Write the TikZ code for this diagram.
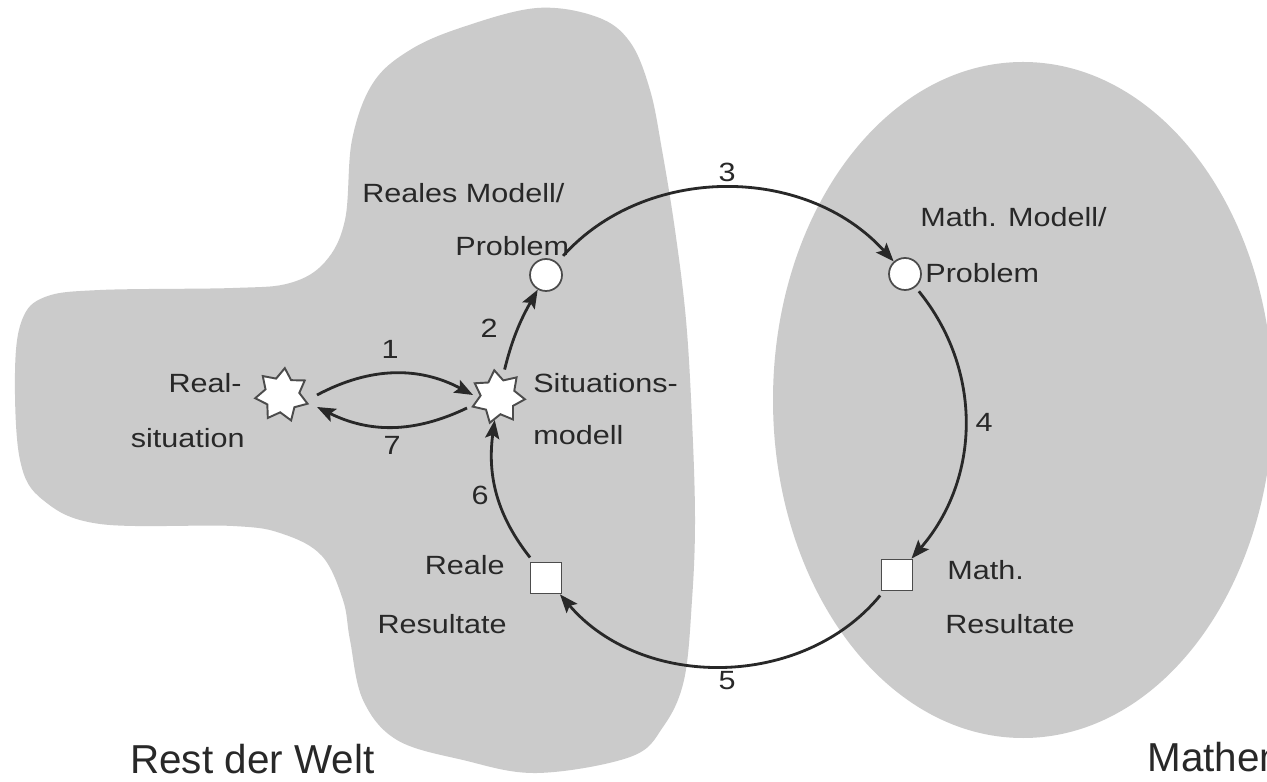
\documentclass[tikz,border=0pt]{standalone}
\usepackage{fontspec}
\setmainfont{Liberation Sans}
\newfontfamily\lblfont{Liberation Sans}[FakeStretch=1.16]
\usetikzlibrary{shapes.geometric,arrows.meta,calc}
\definecolor{blobgray}{RGB}{203,203,203}
\definecolor{inkgray}{RGB}{40,40,40}
\begin{document}
\begin{tikzpicture}[x=0.02cm,y=0.02cm,
  lbl/.style={font=\lblfont\fontsize{15}{18}\selectfont, text=inkgray, inner sep=0pt},
  arr/.style={line width=1.6pt, draw=inkgray, -{Stealth[length=10.5pt,width=8pt,inset=2pt]}},
  circ/.style={circle, draw=black!70, line width=1pt, fill=white, minimum size=0.64cm, inner sep=0pt},
  sq/.style={rectangle, draw=black!70, line width=1pt, fill=white, minimum size=0.62cm, inner sep=0pt},
  starnode/.style={star, star points=7, star point ratio=1.55, draw=black!70, line width=1.1pt, fill=white, minimum size=1.08cm, inner sep=0pt},
  region/.style={fill=blobgray, draw=none},
  worldtitle/.style={font=\fontsize{23}{27}\selectfont, text=inkgray, inner sep=0pt}]

\fill[white] (0,0) rectangle (1267,781);
\useasboundingbox (0,0) rectangle (1267,781);

% Rest der Welt region
\fill[region] plot[smooth cycle, tension=0.6] coordinates {
  (537,773) (597,764) (630,739) (650,691) (662,631) (675,551) (686,461)
  (692,361) (695,261) (692,181) (684,101) (663,54) (630,24) (537,8)
  (463,21) (397,41) (363,81) (350,141) (343,181) (322,225) (283,247)
  (233,255) (100,257) (43,281) (20,321) (15,408) (22,461) (45,484)
  (100,491) (233,493) (290,498) (325,519) (345,561) (352,641) (373,698)
  (410,731) (463,754)};

% Mathematik region
\fill[region] (1023,381) ellipse [x radius=250, y radius=338];

% nodes
\node[starnode, rotate=-6] (ls) at (282,386) {};
\node[starnode, rotate=8] (rs) at (498,384) {};
\node[circ] (lc) at (546,506) {};
\node[circ] (rc) at (905,507) {};
\node[sq] (lq) at (546,203) {};
\node[sq] (rq) at (897,206) {};

% labels
\node[lbl, anchor=base west] (tRM) at (362,578) {Reales Modell/};
\node[lbl, anchor=base west] (tRP) at (455,525) {Problem};
\node[lbl, anchor=base west] (tMM) at (920,554) {Math. Modell/};
\node[lbl, anchor=base west] (tMP) at (925,498) {Problem};
\node[lbl, anchor=base east] (tR1) at (242,388) {Real-};
\node[lbl, anchor=base east] (tR2) at (245,333) {situation};
\node[lbl, anchor=base west] (tS1) at (533,388) {Situations-};
\node[lbl, anchor=base west] (tS2) at (533,336) {modell};
\node[lbl, anchor=base east] (tRR1) at (505,206) {Reale};
\node[lbl, anchor=base east] (tRR2) at (507,148) {Resultate};
\node[lbl, anchor=base west] (tMR1) at (947,201) {Math.};
\node[lbl, anchor=base west] (tMR2) at (945,148) {Resultate};

\node[worldtitle, anchor=base west] (tW) at (130,8) {Rest der Welt};
\node[worldtitle, anchor=base west] (tM) at (1147,10) {Mathematik};

% arrows
\draw[arr] ($(ls)+(35,0)$) to[bend left=28] ($(rs)+(-25,2)$);
\draw[arr] ($(rs)+(-31,-11)$) to[bend left=26] ($(ls)+(35,-12)$);
\draw[arr, shorten <=5pt] (rs) to[bend left=8] (lc);
\draw[arr, shorten <=5pt] (lc) to[bend left=48] (rc);
\draw[arr, shorten <=3pt] (rc) to[bend left=40] (rq);
\draw[arr, shorten <=3pt] (rq) to[bend left=50] (lq);
\draw[arr, shorten <=3pt] (lq) to[bend left=23] (rs);

% arrow numbers
\node[lbl] (n1) at (390,432) {1};
\node[lbl] (n7) at (392,336) {7};
\node[lbl] (n2) at (489,453) {2};
\node[lbl] (n3) at (727,609) {3};
\node[lbl] (n4) at (984,359) {4};
\node[lbl] (n5) at (727,100) {5};
\node[lbl] (n6) at (480,286) {6};
\end{tikzpicture}
\end{document}
